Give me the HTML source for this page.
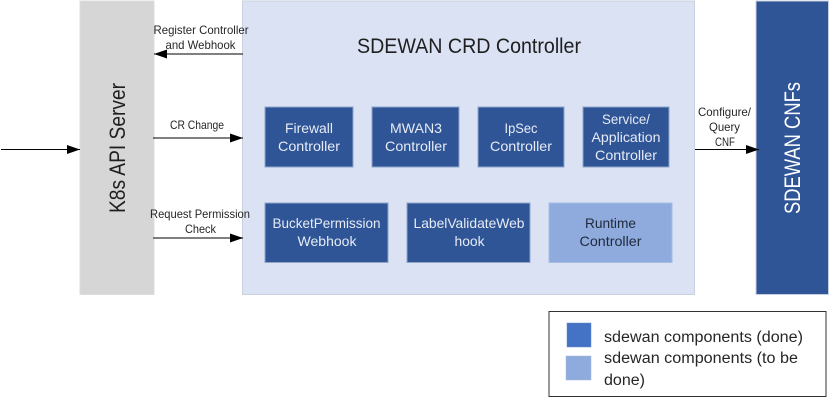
<!DOCTYPE html>
<html>
<head>
<meta charset="utf-8">
<style>
html,body{margin:0;padding:0;background:#fff;width:836px;height:403px;overflow:hidden}
svg{display:block}
text{font-family:"Liberation Sans",sans-serif;text-anchor:middle}
.w{fill:#e6ebf5;font-size:14px}
.k{fill:#262626;font-size:12px}
.l{fill:#262626;font-size:15.5px;text-anchor:start}
</style>
</head>
<body>
<svg width="836" height="403" viewBox="0 0 836 403" xmlns="http://www.w3.org/2000/svg">
<defs>
<marker id="a" markerUnits="userSpaceOnUse" markerWidth="13" markerHeight="10" refX="13" refY="5" orient="auto"><path d="M0 .5L13 5L0 9.500z" fill="#000"/></marker>
</defs>
<rect x="80" y="1" width="74" height="293.500" fill="#d6d6d6" stroke="#dcdcdc"/>
<rect x="242.500" y="1" width="452" height="293.500" fill="#dae2f3" stroke="#c9d0de"/>
<rect x="756" y="1" width="72.500" height="293.500" fill="#2f5597" stroke="#c5cfe0"/>

<text transform="translate(125 148) rotate(-90)" font-size="22.500" fill="#1f1f1f" textLength="130" lengthAdjust="spacingAndGlyphs">K8s API Server</text>
<text transform="translate(800 148) rotate(-90)" font-size="22.500" fill="#fff" textLength="132" lengthAdjust="spacingAndGlyphs">SDEWAN CNFs</text>
<text x="469" y="53" font-size="21" fill="#1f1f1f" textLength="224" lengthAdjust="spacingAndGlyphs">SDEWAN CRD Controller</text>

<g fill="#2f5597" stroke="#8fa5c9" stroke-width="1">
<rect x="265" y="107" width="88" height="60"/>
<rect x="372" y="107" width="87" height="60"/>
<rect x="478" y="107" width="86" height="60"/>
<rect x="583" y="107" width="86" height="60"/>
<rect x="265" y="203" width="123" height="59.500"/>
<rect x="407" y="203" width="123" height="59.500"/>
</g>
<rect x="549" y="203" width="123" height="59.500" fill="#8faadc" stroke="#a5bce3"/>

<g>
<text class="w" x="309" y="133" textLength="48" lengthAdjust="spacingAndGlyphs">Firewall</text>
<text class="w" x="309" y="151" textLength="62" lengthAdjust="spacingAndGlyphs">Controller</text>
<text class="w" x="416" y="133" textLength="52" lengthAdjust="spacingAndGlyphs">MWAN3</text>
<text class="w" x="416" y="151" textLength="62" lengthAdjust="spacingAndGlyphs">Controller</text>
<text class="w" x="521" y="133" textLength="33" lengthAdjust="spacingAndGlyphs">IpSec</text>
<text class="w" x="521" y="151" textLength="62" lengthAdjust="spacingAndGlyphs">Controller</text>
<text class="w" x="626" y="124" textLength="48" lengthAdjust="spacingAndGlyphs">Service/</text>
<text class="w" x="626" y="142" textLength="69" lengthAdjust="spacingAndGlyphs">Application</text>
<text class="w" x="626" y="160" textLength="62" lengthAdjust="spacingAndGlyphs">Controller</text>
<text class="w" x="326.500" y="228" textLength="108" lengthAdjust="spacingAndGlyphs">BucketPermission</text>
<text class="w" x="327" y="246" textLength="59" lengthAdjust="spacingAndGlyphs">Webhook</text>
<text class="w" x="469" y="228" textLength="111" lengthAdjust="spacingAndGlyphs">LabelValidateWeb</text>
<text class="w" x="469.500" y="246" textLength="30" lengthAdjust="spacingAndGlyphs">hook</text>
</g>
<text x="610.500" y="228" font-size="14" fill="#1f2a3d" textLength="51" lengthAdjust="spacingAndGlyphs">Runtime</text>
<text x="610.500" y="246" font-size="14" fill="#1f2a3d" textLength="62" lengthAdjust="spacingAndGlyphs">Controller</text>

<g stroke="#000" stroke-width="1" fill="none">
<line x1="1" y1="149.500" x2="80" y2="149.500" marker-end="url(#a)"/>
<line x1="243" y1="54" x2="154" y2="54" marker-end="url(#a)"/>
<line x1="153" y1="138" x2="243" y2="138" marker-end="url(#a)"/>
<line x1="153" y1="238" x2="243" y2="238" stroke="#555" stroke-width="1.500" marker-end="url(#a)"/>
<line x1="695" y1="149.500" x2="759" y2="149.500" marker-end="url(#a)"/>
</g>

<text class="k" x="201" y="34" textLength="95" lengthAdjust="spacingAndGlyphs">Register Controller</text>
<text class="k" x="200.500" y="49" textLength="70" lengthAdjust="spacingAndGlyphs">and Webhook</text>
<text class="k" x="197" y="129" textLength="54" lengthAdjust="spacingAndGlyphs">CR Change</text>
<text class="k" x="200" y="218" textLength="100" lengthAdjust="spacingAndGlyphs">Request Permission</text>
<text class="k" x="200.500" y="233" textLength="31" lengthAdjust="spacingAndGlyphs">Check</text>
<text class="k" x="724.500" y="116" textLength="53" lengthAdjust="spacingAndGlyphs">Configure/</text>
<text class="k" x="724.500" y="131" textLength="31" lengthAdjust="spacingAndGlyphs">Query</text>
<text class="k" x="725" y="146" textLength="20" lengthAdjust="spacingAndGlyphs">CNF</text>

<rect x="549" y="311.500" width="277" height="85" fill="#fff" stroke="#333" stroke-width="1"/>
<rect x="567" y="323" width="24" height="24" fill="#4472c4" stroke="#6289d0" stroke-width=".5"/>
<rect x="566" y="356" width="25" height="24" fill="#8faadc" stroke="#a5bce3" stroke-width=".5"/>
<text class="l" x="604" y="342" textLength="199" lengthAdjust="spacingAndGlyphs">sdewan components (done)</text>
<text class="l" x="604" y="363" textLength="194" lengthAdjust="spacingAndGlyphs">sdewan components (to be</text>
<text class="l" x="604" y="385" textLength="41" lengthAdjust="spacingAndGlyphs">done)</text>
</svg>
</body>
</html>
